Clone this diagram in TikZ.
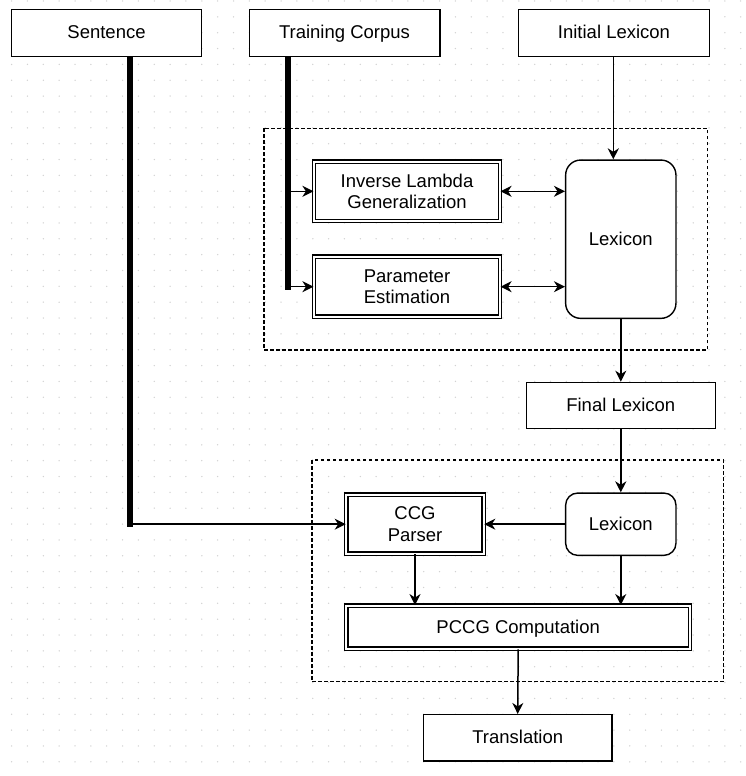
\documentclass[tikz,border=0pt]{standalone}
\usepackage{fontspec}
\setmainfont{Liberation Sans}
\usetikzlibrary{arrows.meta}
\tikzset{
  blk/.style={draw, line width=1.4pt, fill=white, inner sep=0pt, align=center, font=\fontsize{18.5}{21.7}\selectfont},
  oneline/.style={text height=13.4pt, text depth=1.5pt},
  dblk/.style={blk, double, double distance=2.2pt, line width=1.2pt},
  lex/.style={blk, rounded corners=15pt},
  arr/.style={-{Stealth[length=11pt,width=11pt,inset=3.5pt]}, line width=1.5pt},
  darr/.style={{Stealth[length=11pt,width=11pt,inset=3.5pt]}-{Stealth[length=11pt,width=11pt,inset=3.5pt]}, line width=1.5pt},
  thk/.style={line width=6pt},
  grp/.style={draw, dash pattern=on 3.5pt off 2.5pt, line width=1.1pt}
}
\begin{document}
\begin{tikzpicture}[x=1pt,y=-1pt]
\useasboundingbox (0,0) rectangle (746,776);
\fill[white] (0,0) rectangle (746,776);
\foreach \i in {0,...,46} \foreach \j in {0,...,48} \fill[gray!35] ({11.6+15.85*\i},{1+15.85*\j}) circle (0.75pt);
\draw[grp] (264,128.3) rectangle (707.7,350);
\draw[grp] (312,460) rectangle (723.3,681.7);
\path
(106.5,33) node[blk, oneline, minimum width=189.6pt, minimum height=46.6pt] (sentence) {Sentence};
\path
(344.5,33) node[blk, oneline, minimum width=190.6pt, minimum height=46.6pt] (corpus) {Training Corpus};
\path
(614,33) node[blk, oneline, minimum width=190.6pt, minimum height=46.6pt] (initial) {Initial Lexicon};
\path
(407,191.3) node[dblk, minimum width=186pt, minimum height=59.4pt] (inverse) {Inverse Lambda\\Generalization};
\path
(407,286.7) node[dblk, minimum width=186pt, minimum height=60.1pt] (param) {Parameter\\Estimation};
\path
(620.8,239.2) node[lex, oneline, minimum width=110.3pt, minimum height=158.3pt] (lexbig) {Lexicon};
\path
(620.8,405.5) node[blk, oneline, minimum width=188.9pt, minimum height=46.2pt] (final) {Final Lexicon};
\path
(415,524.2) node[dblk, minimum width=137.4pt, minimum height=59.1pt] (ccg) {CCG\\Parser};
\path
(620.8,524.2) node[lex, oneline, rounded corners=12pt, minimum width=110.3pt, minimum height=62.3pt] (lexsmall) {Lexicon};
\path
(518.2,627.2) node[dblk, oneline, minimum width=343.7pt, minimum height=43.1pt] (pccg) {PCCG Computation};
\path
(517.7,737.8) node[blk, oneline, minimum width=188.6pt, minimum height=46.3pt] (trans) {Translation};
\coordinate (sbend) at (129.7,524.2);
\coordinate (cbend) at (288,286.7);
\coordinate (cfork) at (288,191.3);
\draw[thk] (sentence.south -| sbend) -- ([yshift=-3pt]sbend);
\draw[arr] (sbend) -- (ccg.west);
\draw[thk] (corpus.south -| cbend) -- ([yshift=-3pt]cbend);
\draw[arr] (cfork) -- (inverse.west);
\draw[arr] (cbend) -- (param.west);
\draw[arr] (613.3,0 |- initial.south) -- (613.3,0 |- lexbig.north);
\draw[darr] (inverse.east) -- (inverse.east -| lexbig.west);
\draw[darr] (param.east) -- (param.east -| lexbig.west);
\draw[arr] (lexbig.south) -- (final.north);
\draw[arr] (final.south) -- (lexsmall.north);
\draw[arr] (lexsmall.west) -- (ccg.east);
\draw[arr] (ccg.south) -- (ccg.south |- pccg.north);
\draw[arr] (lexsmall.south) -- (lexsmall.south |- pccg.north);
\draw[arr] (pccg.south) -- (trans.north);
\end{tikzpicture}
\end{document}
